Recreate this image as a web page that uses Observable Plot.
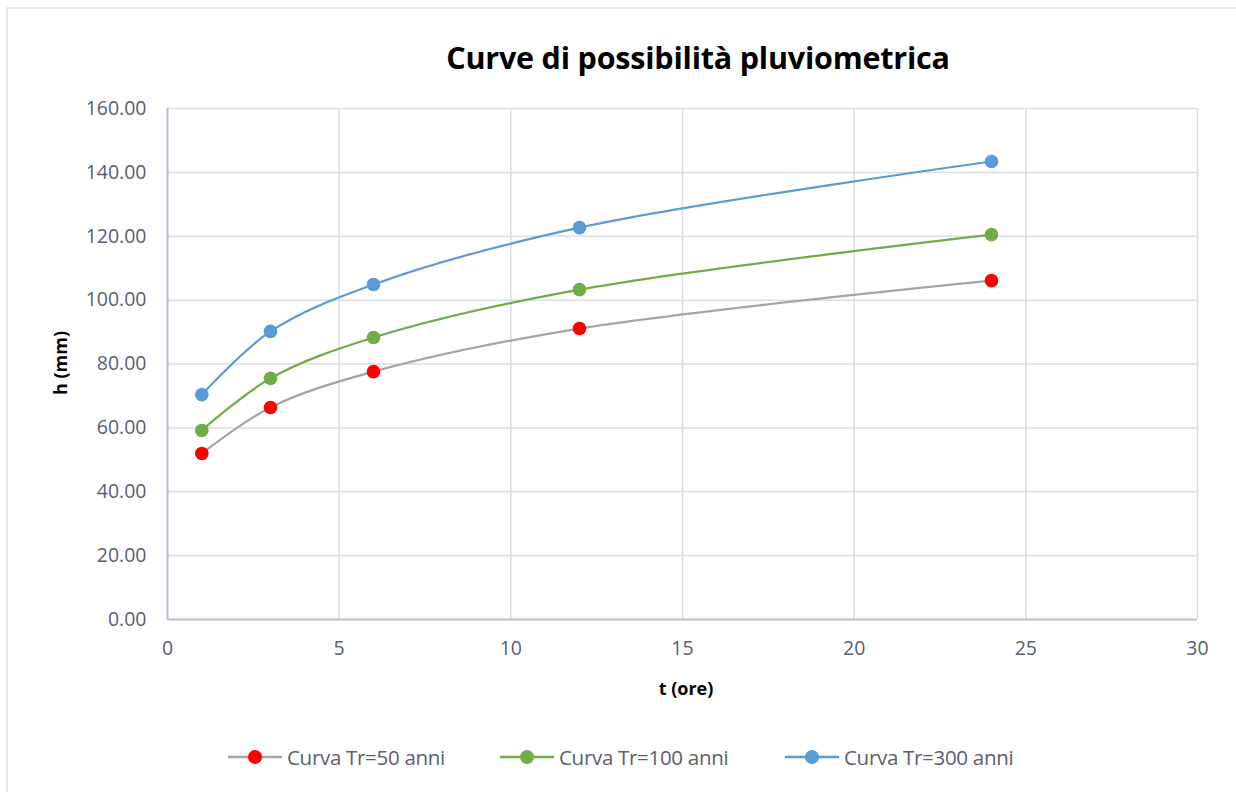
<!DOCTYPE html>
<html>
<head>
<meta charset="utf-8">
<script src="https://cdn.jsdelivr.net/npm/d3@7"></script>
<script src="https://cdn.jsdelivr.net/npm/@observablehq/plot@0.6"></script>
<style>
  html, body { margin: 0; padding: 0; background: #fff; }
  #wrap { position: relative; width: 1236px; height: 792px; overflow: hidden; font-family: "Open Sans", sans-serif; }
  #frameTop { position: absolute; left: 6px; top: 7px; width: 1230px; height: 2px; background: #e4e7ed; }
  #frameLeft { position: absolute; left: 6px; top: 7px; width: 2px; height: 785px; background: #e4e7ed; }
  #title { position: absolute; top: 57px; left: 698px; transform: translate(-50%, -50%); font-weight: bold; font-size: 30.5px; color: #000; white-space: nowrap; line-height: 40px; letter-spacing: -0.2px; }
  #chart { position: absolute; left: 0; top: 0; }
  .ylabel { position: absolute; left: 60px; top: 363px; transform: translate(-50%, -50%) rotate(-90deg); font-weight: bold; font-size: 18px; color: #000; white-space: nowrap; }
  .xlabel { position: absolute; left: 686px; top: 688px; transform: translate(-50%, -50%); font-weight: bold; font-size: 18px; color: #000; white-space: nowrap; }
  .leg { position: absolute; top: 745px; height: 24px; display: flex; align-items: center; font-size: 20.5px; color: #595f6e; white-space: nowrap; letter-spacing: -0.3px; }
  .leg svg { margin-right: 3px; }
</style>
</head>
<body>
<div id="wrap">
  <div id="frameTop"></div>
  <div id="frameLeft"></div>
  <div id="chart"></div>
  <div id="title">Curve di possibilità pluviometrica</div>
  <div class="ylabel">h (mm)</div>
  <div class="xlabel">t (ore)</div>
  <div id="legend"></div>
</div>
<script>
// Data
const durations = [1, 3, 6, 12, 24];          // t (ore)
const h50  = [52.0, 66.4, 77.6, 91.1, 106.1];  // Curva Tr=50 anni
const h100 = [59.2, 75.5, 88.3, 103.3, 120.5]; // Curva Tr=100 anni
const h300 = [70.4, 90.2, 104.9, 122.7, 143.4];// Curva Tr=300 anni
const seriesNames = ["Curva Tr=50 anni", "Curva Tr=100 anni", "Curva Tr=300 anni"];
const xTicks = [0, 5, 10, 15, 20, 25, 30];
const yTicks = [0, 20, 40, 60, 80, 100, 120, 140, 160];

const lineColors = ["#a5a5a5", "#70ad47", "#5b9bd5"];
const dotColors  = ["#ff0000", "#70ad47", "#5b9bd5"];

const seriesValues = [h50, h100, h300];
const rows = seriesValues.flatMap((vals, i) =>
  vals.map((h, j) => ({ t: durations[j], h, s: seriesNames[i] })));

const marks = [
  Plot.gridY(yTicks, { stroke: "#d9dde6", strokeOpacity: 1, strokeWidth: 1.5 }),
  Plot.gridX(xTicks, { stroke: "#d9dde6", strokeOpacity: 1, strokeWidth: 1.5 }),
  Plot.ruleX([0], { stroke: "#b8c0cf", strokeWidth: 2 }),
  Plot.ruleY([0], { stroke: "#b8c0cf", strokeWidth: 2 }),
  Plot.axisX(xTicks, { tickSize: 0, tickPadding: 22, fontSize: 19.5, label: null, fill: "#595f6e" }),
  Plot.axisY(yTicks, { tickSize: 0, tickPadding: 21, fontSize: 19.5, label: null, fill: "#595f6e", tickFormat: d => d.toFixed(2) })
];
seriesNames.forEach((name, i) => {
  const data = rows.filter(r => r.s === name);
  marks.push(Plot.line(data, { x: "t", y: "h", stroke: lineColors[i], strokeWidth: 2.2, curve: "catmull-rom" }));
});
seriesNames.forEach((name, i) => {
  const data = rows.filter(r => r.s === name);
  marks.push(Plot.dot(data, { x: "t", y: "h", r: 6.8, fill: dotColors[i], stroke: "none" }));
});

const chart = Plot.plot({
  width: 1236,
  height: 710,
  marginLeft: 167,
  marginRight: 39,
  marginTop: 108,
  marginBottom: 91,
  style: { fontFamily: "Open Sans, sans-serif", background: "transparent" },
  x: { domain: [0, 30] },
  y: { domain: [0, 160] },
  marks
});
document.getElementById("chart").appendChild(chart);

// Legend
const legendLeft = [228, 500, 785];
const legend = document.getElementById("legend");
seriesNames.forEach((name, i) => {
  const item = document.createElement("div");
  item.className = "leg";
  item.style.left = legendLeft[i] + "px";
  const svg = d3.create("svg").attr("width", 56).attr("height", 24);
  svg.append("line").attr("x1", 0).attr("x2", 54).attr("y1", 12).attr("y2", 12)
    .attr("stroke", lineColors[i]).attr("stroke-width", 2.5);
  svg.append("circle").attr("cx", 27).attr("cy", 12).attr("r", 7).attr("fill", dotColors[i]);
  item.appendChild(svg.node());
  const span = document.createElement("span");
  span.textContent = name;
  item.appendChild(span);
  legend.appendChild(item);
});
</script>
</body>
</html>
